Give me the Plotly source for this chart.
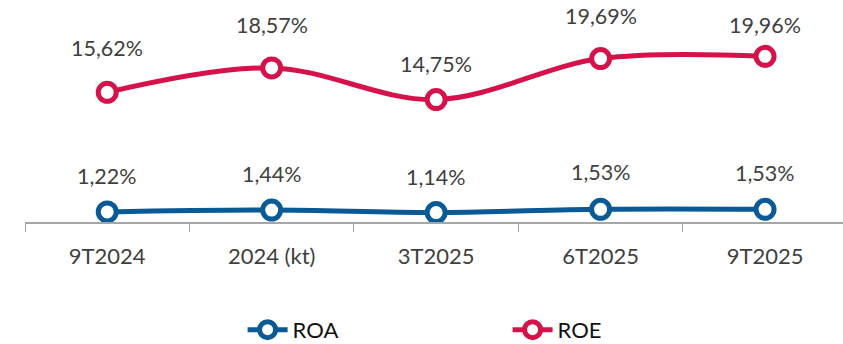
import plotly.graph_objects as go

periods = ["9T2024", "2024 (kt)", "3T2025", "6T2025", "9T2025"]
roa = [1.22, 1.44, 1.14, 1.53, 1.53]
roe = [15.62, 18.57, 14.75, 19.69, 19.96]

ROA_COLOR = "#0A5A96"
ROE_COLOR = "#D6124A"
TEXT_COLOR = "#404040"
FONT = "Lato"

# vertical gap (px) between each marker and its value label
roa_label_gap = [36, 36, 36, 37, 36]
roe_label_gap = [44, 43, 36, 43, 31]


def pct(v):
    return f"{v:.2f}".replace(".", ",") + "%"


fig = go.Figure()
for name, vals, color in [("ROA", roa, ROA_COLOR), ("ROE", roe, ROE_COLOR)]:
    fig.add_trace(go.Scatter(
        x=periods, y=vals, name=name, mode="lines+markers",
        line=dict(color=color, width=5, shape="spline", smoothing=1),
        marker=dict(symbol="circle", size=18, color="white",
                    line=dict(color=color, width=5)),
        hoverinfo="skip",
    ))

annotations = []
for vals, gaps in [(roa, roa_label_gap), (roe, roe_label_gap)]:
    for p, v, g in zip(periods, vals, gaps):
        annotations.append(dict(
            x=p, y=v, xref="x", yref="y", text=pct(v), showarrow=False,
            yshift=g, font=dict(family=FONT, size=21.5, color=TEXT_COLOR),
        ))

fig.update_layout(
    width=843, height=344,
    margin=dict(l=25, r=0, t=0, b=122, autoexpand=False),
    paper_bgcolor="white", plot_bgcolor="white",
    showlegend=True,
    legend=dict(orientation="h", x=0.266, xanchor="left", xref="paper",
                y=-0.486, yanchor="middle", entrywidth=210,
                font=dict(family=FONT, size=22, color="#111111"),
                itemwidth=40),
    annotations=annotations,
    font=dict(family=FONT),
)
fig.update_xaxes(
    type="category", range=[-0.5, 4.474],
    showline=True, linecolor="#A6A6A6", linewidth=1.5,
    ticks="outside", tickson="boundaries", ticklen=8, tickcolor="#A6A6A6",
    ticklabelstandoff=14,
    showgrid=False, zeroline=False,
    tickfont=dict(family=FONT, size=22, color=TEXT_COLOR),
)
fig.update_yaxes(range=[0, 26.75], visible=False, showgrid=False)

fig.write_html("out.html")
